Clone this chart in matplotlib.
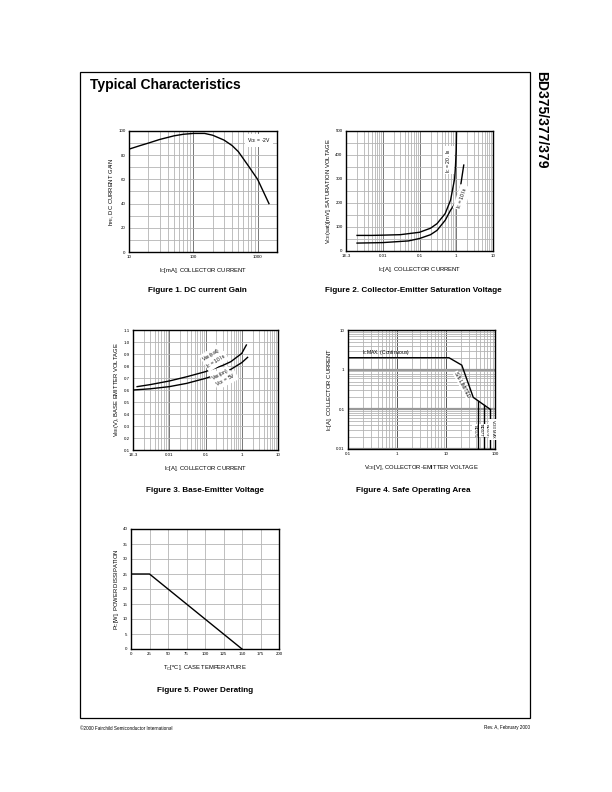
import numpy as np
import matplotlib
matplotlib.use('Agg')
import matplotlib.pyplot as plt
from matplotlib.ticker import LogLocator, FixedLocator, NullFormatter
from matplotlib.patches import Rectangle

plt.rcParams['font.family'] = ['Liberation Sans', 'DejaVu Sans']
plt.rcParams['mathtext.fontset'] = 'custom'
plt.rcParams['mathtext.rm'] = 'Liberation Sans'
plt.rcParams['mathtext.it'] = 'Liberation Sans:italic'

# Figure 1 - DC current gain
ic_ma = [10, 15, 20, 30, 50, 70, 100, 150, 200, 300, 400, 500, 700, 1000, 1500]
hfe = [85, 88, 90, 93, 96, 97.3, 98, 98, 96.5, 92.5, 88, 83, 72, 60, 40]

# Figure 2 - saturation voltage
ic_sat20 = [0.002, 0.005, 0.01, 0.03, 0.1, 0.2, 0.3, 0.5, 0.7, 0.9, 0.95, 1.0, 1.02]
vsat20 = [65, 65, 66, 68, 78, 95, 114, 156, 212, 300, 350, 420, 500]
ic_sat10 = [0.002, 0.01, 0.05, 0.1, 0.2, 0.3, 0.5, 0.7, 1.0, 1.3, 1.6]
vsat10 = [33, 35, 42, 52, 68, 86, 128, 170, 205, 267, 358]

# Figure 3 - base-emitter voltage
ic_besat = [0.0013, 0.003, 0.01, 0.03, 0.1, 0.3, 0.5, 1.0, 1.34]
vbe_sat = [0.628, 0.645, 0.675, 0.71, 0.753, 0.805, 0.836, 0.905, 0.975]
ic_beon = [0.001, 0.003, 0.01, 0.03, 0.1, 0.3, 0.5, 1.0, 1.45]
vbe_on = [0.60, 0.61, 0.628, 0.655, 0.697, 0.745, 0.772, 0.828, 0.872]

# Figure 4 - safe operating area
soa_vce = [0.1, 11.5, 21, 36, 80]
soa_ic = [2.0, 2.0, 1.3, 0.2, 0.1]
vceo_max = [45, 60, 80]
vceo_top = [0.165, 0.13, 0.1]
vceo_names = ['BD375', 'BD377', 'BD379']

# Figure 5 - power derating
tc = [0, 25, 150]
pd_w = [25, 25, 0]

fig = plt.figure(figsize=(6.12, 7.92), dpi=100)
W, H = 612.0, 792.0


def make_ax(x0, y0, x1, y1):
    return fig.add_axes([x0 / W, 1 - y1 / H, (x1 - x0) / W, (y1 - y0) / H])


def style(ax):
    for s in ax.spines.values():
        s.set_linewidth(1.0)
    ax.tick_params(which='both', length=0, labelsize=3.2, pad=2.5)
    ax.set_axisbelow(True)


grid_kw = dict(color='#b4b4b4', linewidth=0.6)
lab = 4.2
cap = 5.9
xpad = 5
ypad = 1.5

# frame and page text
fig.patches.append(Rectangle((80 / W, 1 - 718 / H), 450 / W, 646 / H, transform=fig.transFigure,
                             fill=False, edgecolor='black', linewidth=0.9))
fig.text(90 / W, 1 - 85 / H, 'Typical Characteristics', fontsize=10, fontweight='bold', va='center')
fig.text(541 / W, 1 - 120 / H, 'BD375/377/379', fontsize=10, fontweight='bold', rotation=-90,
         ha='center', va='center')
fig.text(80 / W, 1 - 728 / H, '\u00a92000 Fairchild Semiconductor International', fontsize=3.3, va='center')
fig.text(530 / W, 1 - 728 / H, 'Rev. A, February 2000', fontsize=3.3, va='center', ha='right')

# ---- Figure 1
ax1 = make_ax(129, 131, 277, 252)
ax1.plot(ic_ma, hfe, color='black', linewidth=1.0)
ax1.set_xscale('log')
ax1.set_xlim(10, 2000)
ax1.set_ylim(0, 100)
ax1.xaxis.set_major_locator(FixedLocator([10, 100, 1000]))
ax1.set_xticklabels(['10', '100', '1000'])
ax1.xaxis.set_minor_locator(LogLocator(base=10, subs=np.arange(2, 10)))
ax1.xaxis.set_minor_formatter(NullFormatter())
ax1.set_yticks(range(0, 101, 20))
ax1.yaxis.set_minor_locator(FixedLocator(range(10, 100, 20)))
ax1.grid(which='both', **grid_kw)
ax1.grid(which='major', axis='x', color='#777777', linewidth=0.7)
style(ax1)
ax1.text(1060, 92, r'V$_{\mathregular{CE}}$ = -2V', fontsize=3.6, ha='center', va='center',
         bbox=dict(facecolor='white', edgecolor='none', pad=1.5))
ax1.set_xlabel(r'I$_{\mathregular{C}}$[mA], COLLECTOR CURRENT', fontsize=lab, labelpad=xpad)
ax1.set_ylabel(r'h$_{\mathregular{FE}}$, DC CURRENT GAIN', fontsize=lab, labelpad=ypad)
fig.text(197 / W, 1 - 291 / H, 'Figure 1. DC current Gain', fontsize=cap, fontweight='bold',
         ha='center', va='center')

# ---- Figure 2
ax2 = make_ax(346, 131, 493, 251)
ax2.plot(ic_sat20, vsat20, color='black', linewidth=1.0)
ax2.plot(ic_sat10, vsat10, color='black', linewidth=1.0)
ax2.set_xscale('log')
ax2.set_xlim(0.001, 10)
ax2.set_ylim(0, 500)
ax2.xaxis.set_major_locator(FixedLocator([0.001, 0.01, 0.1, 1, 10]))
ax2.set_xticklabels(['1E-3', '0.01', '0.1', '1', '10'])
ax2.xaxis.set_minor_locator(LogLocator(base=10, subs=np.arange(2, 10)))
ax2.xaxis.set_minor_formatter(NullFormatter())
ax2.set_yticks(range(0, 501, 100))
ax2.yaxis.set_minor_locator(FixedLocator(range(50, 500, 100)))
ax2.grid(which='both', **grid_kw)
ax2.grid(which='major', axis='x', color='#777777', linewidth=0.7)
style(ax2)
ax2.text(0.62, 379, r'I$_{\mathregular{C}}$ = 20 . I$_{\mathregular{B}}$', fontsize=3.6, rotation=90,
         ha='center', va='center', bbox=dict(facecolor='white', edgecolor='none', pad=1))
ax2.text(1.45, 222, r'I$_{\mathregular{C}}$ = 10 I$_{\mathregular{B}}$', fontsize=3.6, rotation=72,
         ha='center', va='center', bbox=dict(facecolor='white', edgecolor='none', pad=1))
ax2.set_xlabel(r'I$_{\mathregular{C}}$[A], COLLECTOR CURRENT', fontsize=lab, labelpad=xpad)
ax2.set_ylabel(r'V$_{\mathregular{CE}}$(sat)[mV], SATURATION VOLTAGE', fontsize=lab, labelpad=ypad)
fig.text(413 / W, 1 - 291 / H, 'Figure 2. Collector-Emitter Saturation Voltage', fontsize=cap,
         fontweight='bold', ha='center', va='center')

# ---- Figure 3
ax3 = make_ax(133, 330, 278, 450)
ax3.plot(ic_besat, vbe_sat, color='black', linewidth=1.0)
ax3.plot(ic_beon, vbe_on, color='black', linewidth=1.0)
ax3.set_xscale('log')
ax3.set_xlim(0.001, 10)
ax3.set_ylim(0.1, 1.1)
ax3.xaxis.set_major_locator(FixedLocator([0.001, 0.01, 0.1, 1, 10]))
ax3.set_xticklabels(['1E-3', '0.01', '0.1', '1', '10'])
ax3.xaxis.set_minor_locator(LogLocator(base=10, subs=np.arange(2, 10)))
ax3.xaxis.set_minor_formatter(NullFormatter())
ax3.set_yticks(np.arange(0.1, 1.15, 0.1))
ax3.set_yticklabels(['%.1f' % v for v in np.arange(0.1, 1.15, 0.1)])
ax3.grid(which='both', **grid_kw)
ax3.grid(which='major', axis='x', color='#777777', linewidth=0.7)
style(ax3)
bb = dict(facecolor='white', edgecolor='none', pad=0.5)
ax3.text(0.14, 0.895, r'V$_{\mathregular{BE}}$(sat)', fontsize=3.6, rotation=32, ha='center', va='center', bbox=bb)
ax3.text(0.2, 0.838, r'I$_{\mathregular{C}}$ = 10 I$_{\mathregular{B}}$', fontsize=3.6, rotation=32,
         ha='center', va='center', bbox=bb)
ax3.text(0.26, 0.727, r'V$_{\mathregular{BE}}$(on)', fontsize=3.6, rotation=28, ha='center', va='center', bbox=bb)
ax3.text(0.37, 0.683, r'V$_{\mathregular{CE}}$ = 5V', fontsize=3.6, rotation=28, ha='center', va='center', bbox=bb)
ax3.set_xlabel(r'I$_{\mathregular{C}}$[A], COLLECTOR CURRENT', fontsize=lab, labelpad=xpad)
ax3.set_ylabel(r'V$_{\mathregular{BE}}$(V), BASE EMITTER VOLTAGE', fontsize=lab, labelpad=ypad)
fig.text(205 / W, 1 - 491 / H, 'Figure 3. Base-Emitter Voltage', fontsize=cap, fontweight='bold',
         ha='center', va='center')

# ---- Figure 4
ax4 = make_ax(348, 330, 495, 449)
ax4.plot(soa_vce, soa_ic, color='black', linewidth=1.0)
for v, top in zip(vceo_max, vceo_top):
    ax4.plot([v, v], [0.01, top], color='black', linewidth=1.0)
ax4.set_xscale('log')
ax4.set_yscale('log')
ax4.set_xlim(0.1, 100)
ax4.set_ylim(0.01, 10)
ax4.xaxis.set_major_locator(FixedLocator([0.1, 1, 10, 100]))
ax4.set_xticklabels(['0.1', '1', '10', '100'])
ax4.yaxis.set_major_locator(FixedLocator([0.01, 0.1, 1, 10]))
ax4.set_yticklabels(['0.01', '0.1', '1', '10'])
for a in (ax4.xaxis, ax4.yaxis):
    a.set_minor_locator(LogLocator(base=10, subs=np.arange(2, 10)))
    a.set_minor_formatter(NullFormatter())
ax4.grid(which='minor', **grid_kw)
ax4.grid(which='major', axis='x', color='#555555', linewidth=0.7)
ax4.grid(which='major', axis='y', color='#999999', linewidth=1.6)
style(ax4)
ax4.text(0.19, 2.75, r'I$_{\mathregular{C}}$MAX. (Continuous)', fontsize=3.6, ha='left', va='center')
ax4.text(21, 0.42, 'S/b LIMITED', fontsize=3.6, rotation=-62, ha='center', va='center',
         bbox=dict(facecolor='white', edgecolor='none', pad=0.3))
for v, name in zip([38, 51, 67], vceo_names):
    ax4.text(v, 0.029, name, fontsize=2.9, rotation=-90, ha='center', va='center',
             bbox=dict(facecolor='white', edgecolor='none', pad=0.1))
ax4.text(91, 0.031, r'V$_{\mathregular{CEO}}$ MAX', fontsize=2.9, rotation=-90, ha='center', va='center',
         bbox=dict(facecolor='white', edgecolor='none', pad=0.1))
ax4.set_xlabel(r'V$_{\mathregular{CE}}$[V], COLLECTOR-EMITTER VOLTAGE', fontsize=lab, labelpad=xpad)
ax4.set_ylabel(r'I$_{\mathregular{C}}$[A], COLLECTOR CURRENT', fontsize=lab, labelpad=ypad)
fig.text(413 / W, 1 - 491 / H, 'Figure 4. Safe Operating Area', fontsize=cap, fontweight='bold',
         ha='center', va='center')

# ---- Figure 5
ax5 = make_ax(131, 529, 279, 649)
ax5.plot(tc, pd_w, color='black', linewidth=1.0)
ax5.set_xlim(0, 200)
ax5.set_ylim(0, 40)
ax5.set_xticks(range(0, 201, 25))
ax5.set_yticks(range(0, 41, 5))
ax5.grid(which='major', **grid_kw)
style(ax5)
ax5.set_xlabel(r'T$_{\mathregular{C}}$[$^{\mathregular{o}}$C], CASE TEMPERATURE', fontsize=lab, labelpad=xpad)
ax5.set_ylabel(r'P$_{\mathregular{C}}$[W], POWER DISSIPATION', fontsize=lab, labelpad=ypad)
fig.text(205 / W, 1 - 690 / H, 'Figure 5. Power Derating', fontsize=cap, fontweight='bold',
         ha='center', va='center')

fig.savefig('out.png', dpi=100)
